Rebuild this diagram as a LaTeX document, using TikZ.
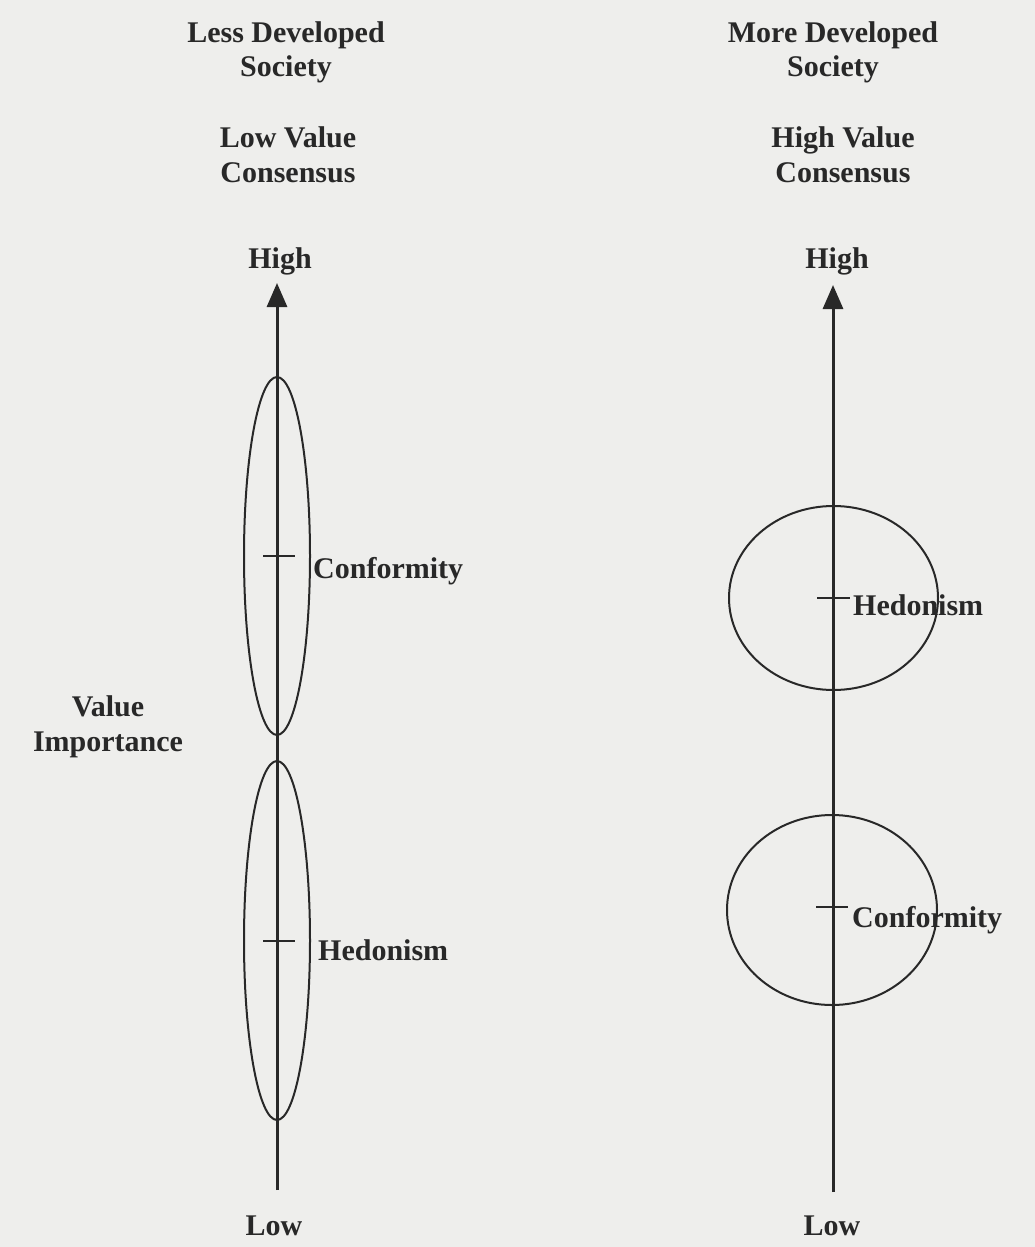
\documentclass[tikz,border=0pt]{standalone}
\usepackage{fontspec}
\setmainfont{Liberation Serif}
\usetikzlibrary{arrows.meta,shapes.geometric}
\definecolor{paper}{RGB}{238,238,236}
\definecolor{ink}{RGB}{40,40,40}
\tikzset{
  lbl/.style={font=\bfseries\fontsize{30}{34.5}\selectfont, text=ink, inner sep=0pt, align=center},
  axisline/.style={draw=ink, line width=3pt, -{Triangle[width=20pt,length=24pt]}},
  blob/.style={draw=ink, line width=2pt, ellipse, inner sep=0pt},
  tick/.style={draw=ink, line width=2.4pt},
}
\begin{document}
\begin{tikzpicture}[x=1pt,y=-1pt]
\fill[paper] (0,0) rectangle (1035,1247);
\useasboundingbox (0,0) rectangle (1035,1247);

% headings (base = baseline of last line)
\node[lbl, anchor=base] (lh1) at (286,77) {Less Developed\\Society};
\node[lbl, anchor=base] (lh2) at (288,182) {Low Value\\Consensus};
\node[lbl, anchor=base] (rh1) at (833,77) {More Developed\\Society};
\node[lbl, anchor=base] (rh2) at (843,182) {High Value\\Consensus};

% axes
\coordinate (lb) at (277,1190);
\coordinate (lt) at (277,283);
\coordinate (rb) at (833,1192);
\coordinate (rt) at (833,285);

% left ellipses
\node[blob, minimum width=66pt, minimum height=358pt] (lup) at (277,556) {};
\node[blob, minimum width=66pt, minimum height=359pt] (llo) at (277,940.5) {};
% right circles
\node[blob, minimum width=209pt, minimum height=184pt] (rup) at (833.5,598) {};
\node[blob, minimum width=210pt, minimum height=190pt] (rlo) at (832,910) {};

\draw[axisline] (lb) -- (lt);
\draw[axisline] (rb) -- (rt);

\node[lbl, anchor=base] (lhigh) at (280,268) {High};
\node[lbl, anchor=base] (llow) at (274,1235) {Low};
\node[lbl, anchor=base] (rhigh) at (837,268) {High};
\node[lbl, anchor=base] (rlow) at (832,1235) {Low};

\node[lbl, anchor=base] (vi) at (108,751) {Value\\Importance};

% ticks
\coordinate (t1a) at (263,556); \coordinate (t1b) at (295,556);
\coordinate (t2a) at (263,941); \coordinate (t2b) at (295,941);
\coordinate (t3a) at (817,598); \coordinate (t3b) at (850,598);
\coordinate (t4a) at (816,907); \coordinate (t4b) at (848,907);
\draw[tick] (t1a) -- (t1b);
\draw[tick] (t2a) -- (t2b);
\draw[tick] (t3a) -- (t3b);
\draw[tick] (t4a) -- (t4b);

% value labels
\node[lbl, anchor=base west] (lconf) at (313,578) {Conformity};
\node[lbl, anchor=base west] (lhed) at (318,960) {Hedonism};
\node[lbl, anchor=base west] (rhed) at (853,615) {Hedonism};
\node[lbl, anchor=base west] (rconf) at (852,927) {Conformity};
\end{tikzpicture}
\end{document}
